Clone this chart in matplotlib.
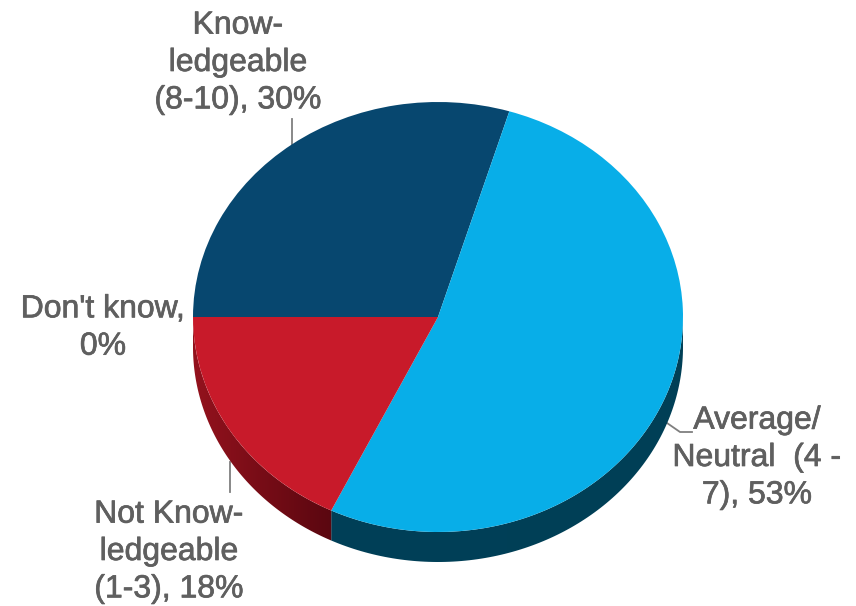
"""Three-way knowledge split drawn as a tilted pie with a shaded rim."""

import numpy as np
import matplotlib
matplotlib.use('Agg')
import matplotlib.pyplot as plt
import matplotlib.patheffects as pe
from matplotlib.colors import LinearSegmentedColormap
from matplotlib.patches import Polygon


# ============== DATA ==============

CATEGORIES = ['Know-\nledgeable\n(8-10), 30%', 'Average/\nNeutral  (4 -\n7), 53%',
			  'Not Know-\nledgeable\n(1-3), 18%', "Don't know,\n0%"]
VALUES = [30, 53, 18, 0]
TOP_COLORS = ['#07476f', '#08aee8', '#c81a2a', '#b0b0b0']
# Rim gradient of each slice, left end to right end
RIM_COLORS = [('#042c45', '#042c45'), ('#004058', '#003f56'),
			  ('#94121d', '#5a0710'), ('#808080', '#808080')]

# ============== LAYOUT (pixels) ==============

WIDTH, HEIGHT = 856, 606
CENTER_X, CENTER_Y = 438, 317
RADIUS_X, RADIUS_Y = 245, 215
DEPTH = 30
START_ANGLE = 180
TEXT_COLOR = '#5f5f5f'

fig = plt.figure(figsize=(WIDTH / 100, HEIGHT / 100), dpi=100)
ax = fig.add_axes([0, 0, 1, 1])


def px(x, y):
	"""Pixel position (from top left) to pie units"""
	return (x - CENTER_X) / RADIUS_X, (CENTER_Y - y) / RADIUS_Y


# Top face
wedges, _ = ax.pie(VALUES, colors=TOP_COLORS, startangle=START_ANGLE,
				   counterclock=False, radius=1)
for wedge in wedges:
	wedge.set_zorder(3)

ax.set_aspect('auto')
x_range = ((0 - CENTER_X) / RADIUS_X, (WIDTH - CENTER_X) / RADIUS_X)
y_range = ((CENTER_Y - HEIGHT) / RADIUS_Y, CENTER_Y / RADIUS_Y)
ax.set_xlim(*x_range)
ax.set_ylim(*y_range)
ax.axis('off')

# Rim: one polygon per slice, clipping a horizontal gradient
depth_units = DEPTH / RADIUS_Y
for wedge, rim in zip(wedges, RIM_COLORS):
	# wedge angles come from the pie, so the rim follows the values
	theta = np.radians(np.linspace(wedge.theta1, wedge.theta2, 200))
	theta = theta[np.sin(theta) < 0.02]
	if len(theta) < 2:
		continue
	xs, ys = np.cos(theta), np.sin(theta)
	outline = np.vstack([np.column_stack([xs, ys]),
						 np.column_stack([xs, ys - depth_units])[::-1]])
	clip = Polygon(outline, transform=ax.transData, facecolor='none', edgecolor='none')
	ax.add_patch(clip)
	cmap = LinearSegmentedColormap.from_list('rim', rim)
	img = ax.imshow(np.linspace(0, 1, 256)[None, :], cmap=cmap, aspect='auto',
					extent=(xs.min(), xs.max(), -1.3, 0.1), zorder=2)
	img.set_clip_path(clip)
ax.set_xlim(*x_range)
ax.set_ylim(*y_range)

# Labels
FONT = dict(family='Liberation Sans', fontsize=23, color=TEXT_COLOR,
			ha='center', va='center', linespacing=1.32,
			path_effects=[pe.withStroke(linewidth=0.5, foreground=TEXT_COLOR)])
LABEL_POS = [(238, 63), (757, 458), (169, 552), (103, 328)]
for label, (x, y) in zip(CATEGORIES, LABEL_POS):
	ax.text(*px(x, y), label, zorder=5, **FONT)

# Leader lines
LEADERS = [[(292, 119), (292, 150)],
		   [(692, 432), (680, 432), (667, 423)],
		   [(230, 492), (230, 462)]]
for line in LEADERS:
	pts = [px(x, y) for x, y in line]
	ax.plot([p[0] for p in pts], [p[1] for p in pts], color='#7f7f7f', lw=1.3, zorder=1)

fig.savefig('out.png', dpi=100)
